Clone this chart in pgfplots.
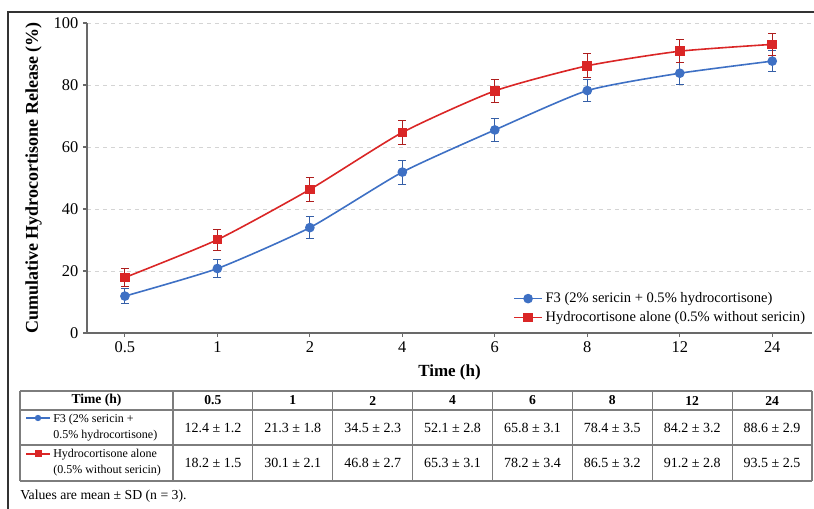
\documentclass[border=0pt]{standalone}
\usepackage{fontspec}
\setmainfont{Liberation Serif}
\usepackage{pgfplots}
\usepackage{pgfplotstable}
\pgfplotsset{compat=1.18}
\definecolor{f3blue}{RGB}{62,112,196}
\definecolor{hcred}{RGB}{218,38,38}
\definecolor{gridgray}{RGB}{212,212,212}
\definecolor{axgray}{RGB}{105,105,105}
\definecolor{tabgray}{RGB}{125,125,125}

% x = category index (0.5,1,2,4,6,8,12,24 h), y = mean as plotted, e = error bar as plotted
\pgfplotstableread{
x y e
0 11.9 2.5
1 20.8 2.85
2 34.0 3.65
3 51.9 3.85
4 65.5 3.75
5 78.2 3.55
6 83.8 3.6
7 87.7 3.45
}\fthree
\pgfplotstableread{
x y e
0 17.9 2.9
1 30.1 3.4
2 46.3 3.8
3 64.7 3.9
4 78.1 3.7
5 86.2 3.85
6 90.9 3.65
7 93.1 3.55
}\hcalone

\begin{document}
\begin{tikzpicture}
\useasboundingbox (0,0) rectangle (610.5pt,-381.75pt);
\begin{axis}[
  at={(65.25pt,-249.75pt)}, anchor=south west,
  scale only axis, width=543.75pt, height=232.5pt,
  xmin=-0.41, xmax=7.43, ymin=0, ymax=100,
  xtick={0,...,7}, xticklabels={0.5,1,2,4,6,8,12,24},
  ytick={0,20,...,100},
  axis x line*=bottom, axis y line*=left,
  axis line style={axgray, line width=0.9pt},
  tick style={axgray, line width=0.8pt},
  tick align=outside, major tick length=3pt,
  ymajorgrids, grid style={gridgray, dashed, line width=0.6pt},
  /pgf/number format/assume math mode=true,
  tick label style={font=\fontsize{12.3}{12}\selectfont},
  xlabel={\bfseries Time (h)},
  ylabel={\bfseries Cumulative Hydrocortisone Release (\%)},
  xlabel style={font=\fontsize{12.75}{13}\selectfont, yshift=-2pt},
  ylabel style={font=\fontsize{13.5}{14}\selectfont, yshift=2pt},
  legend style={at={(1,0.012)}, anchor=south east, draw=none, fill=none,
    font=\fontsize{10.9}{12}\selectfont, row sep=1.2pt, cells={anchor=west}},
  legend image code/.code={\draw[mark repeat=2, mark phase=2]
    plot coordinates {(0pt,0pt) (10.5pt,0pt) (21pt,0pt)};},
]
\addplot[f3blue, line width=1.2pt, smooth, tension=0.35, mark=*, mark size=3pt,
  mark options={solid, fill=f3blue},
  error bars/.cd, y dir=both, y explicit,
  error bar style={f3blue!85!black, line width=0.7pt},
  error mark options={rotate=90, mark size=3pt, line width=0.7pt, f3blue!85!black}]
  table[x=x, y=y, y error=e] {\fthree};
\addlegendentry{F3 (2\% sericin + 0.5\% hydrocortisone)}
\addplot[hcred, line width=1.2pt, smooth, tension=0.35, mark=square*, mark size=3pt,
  mark options={solid, fill=hcred},
  error bars/.cd, y dir=both, y explicit,
  error bar style={hcred!80!black, line width=0.7pt},
  error mark options={rotate=90, mark size=3pt, line width=0.7pt, hcred!80!black}]
  table[x=x, y=y, y error=e] {\hcalone};
\addlegendentry{Hydrocortisone alone (0.5\% without sericin)}
\end{axis}

\begin{scope}[x=0.75pt, y=-0.75pt]
  % outer frame
  \draw[line width=0.9pt, black!80] (8,509) -- (8,12) -- (814,12);
  % table grid
  \foreach \yy in {391,410,445,481} \draw[tabgray, line width=0.8pt] (20,\yy) -- (812,\yy);
  \draw[tabgray, line width=0.8pt] (20,391) -- (20,481);
  \foreach \k in {0,...,8} \draw[tabgray, line width=0.8pt] ({173+79.875*\k},391) -- ({173+79.875*\k},481);
  % header
  \node[font=\fontsize{10.2}{12}\selectfont\bfseries] at (96.5,400.5) {Time (h)};
  \foreach \lab [count=\i from 0] in {0.5,1,2,4,6,8,12,24}
    \node[font=\fontsize{10.2}{12}\selectfont\bfseries] at ({173+79.875*(\i+0.5)},400.5) {\lab};
  % rows
  \foreach \v [count=\i from 0] in {12.4 ± 1.2,21.3 ± 1.8,34.5 ± 2.3,52.1 ± 2.8,65.8 ± 3.1,78.4 ± 3.5,84.2 ± 3.2,88.6 ± 2.9}
    \node[font=\fontsize{10.5}{12}\selectfont] at ({173+79.875*(\i+0.5)},427.5) {\v};
  \foreach \v [count=\i from 0] in {18.2 ± 1.5,30.1 ± 2.1,46.8 ± 2.7,65.3 ± 3.1,78.2 ± 3.4,86.5 ± 3.2,91.2 ± 2.8,93.5 ± 2.5}
    \node[font=\fontsize{10.5}{12}\selectfont] at ({173+79.875*(\i+0.5)},463) {\v};
  % row labels with legend keys
  \draw[f3blue, line width=1.1pt] (26,418) -- (50,418);
  \fill[f3blue] (38,418) circle (3.2);
  \node[anchor=west, align=left, font=\fontsize{9}{12}\selectfont, inner sep=0pt] at (53,427.5)
    {F3 (2\% sericin +\\0.5\% hydrocortisone)};
  \draw[hcred, line width=1.1pt] (26,454) -- (50,454);
  \fill[hcred] (34.5,450.5) rectangle (41.5,457.5);
  \node[anchor=west, align=left, font=\fontsize{9}{12}\selectfont, inner sep=0pt] at (53,463)
    {Hydrocortisone alone\\(0.5\% without sericin)};
  % footnote
  \node[anchor=base west, inner sep=0pt, font=\fontsize{10.3}{12}\selectfont] at (20,499)
    {Values are mean ± SD (n = 3).};
\end{scope}
\end{tikzpicture}
\end{document}
